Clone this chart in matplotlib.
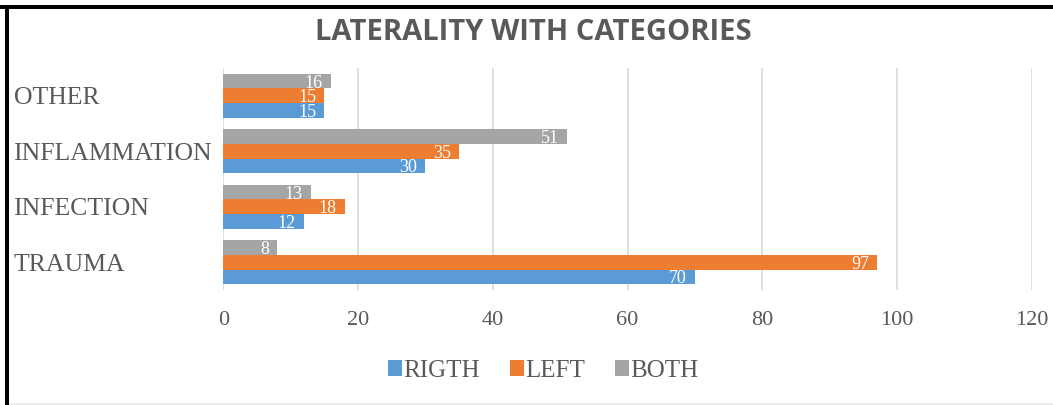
import matplotlib.pyplot as plt
import numpy as np
from matplotlib.patches import Rectangle

categories = ["TRAUMA", "INFECTION", "INFLAMMATION", "OTHER"]
right_vals = [70, 12, 30, 15]
left_vals = [97, 18, 35, 15]
both_vals = [8, 13, 51, 16]
series_names = ["RIGTH", "LEFT", "BOTH"]
colors = ["#5B9BD5", "#ED7D31", "#A5A5A5"]
xticks = [0, 20, 40, 60, 80, 100, 120]

serif = "Liberation Serif"
grey_txt = "#595959"

fig = plt.figure(figsize=(10.53, 4.05), dpi=100)
ax = fig.add_axes([0.212, 0.284, 0.768, 0.548])

y = np.arange(len(categories))
h = 0.265
offsets = [-h, 0, h]
all_vals = [right_vals, left_vals, both_vals]

for vals, off, col, name in zip(all_vals, offsets, colors, series_names):
    bars = ax.barh(y + off, vals, height=h, color=col, label=name, zorder=3)
    for b, v in zip(bars, vals):
        ax.text(b.get_width() - 1.2, b.get_y() + b.get_height() / 2, str(v),
                ha="right", va="center_baseline", color="white", fontsize=13,
                family=serif, zorder=4)

ax.set_xlim(0, 120)
ax.set_ylim(-0.5, 3.5)
ax.set_xticks(xticks)
ax.set_xticklabels([str(t) for t in xticks], family=serif, fontsize=16,
                   color=grey_txt)
ax.set_yticks(y)
ax.set_yticklabels(categories, family=serif, fontsize=18.5, color=grey_txt,
                   ha="left")
ax.tick_params(axis="y", length=0, pad=151)
ax.tick_params(axis="x", length=0, pad=15)
ax.grid(axis="x", color="#D9D9D9", linewidth=1.2, zorder=0)
for s in ax.spines.values():
    s.set_visible(False)

fig.suptitle("LATERALITY WITH CATEGORIES", x=0.506, y=0.955,
             fontsize=21, fontweight="bold", family="Open Sans",
             color=grey_txt)

leg = fig.legend(loc="center", bbox_to_anchor=(0.516, 0.084), ncol=3,
                 frameon=False, handlelength=0.56, handleheight=0.6,
                 handletextpad=0.05, columnspacing=1.2,
                 prop={"family": serif, "size": 18})
for t in leg.get_texts():
    t.set_color(grey_txt)

# black frame on top and left edges, faint line at the bottom
fig.add_artist(Rectangle((0, 1 - 9 / 405), 1, 4 / 405, transform=fig.transFigure,
                         color="black", lw=0))
fig.add_artist(Rectangle((5 / 1053, 0), 4 / 1053, 1 - 5 / 405,
                         transform=fig.transFigure, color="black", lw=0))
fig.add_artist(Rectangle((9 / 1053, 0), 1, 2 / 405, transform=fig.transFigure,
                         color="#EDEDED", lw=0))

fig.savefig("out.png", dpi=100)
